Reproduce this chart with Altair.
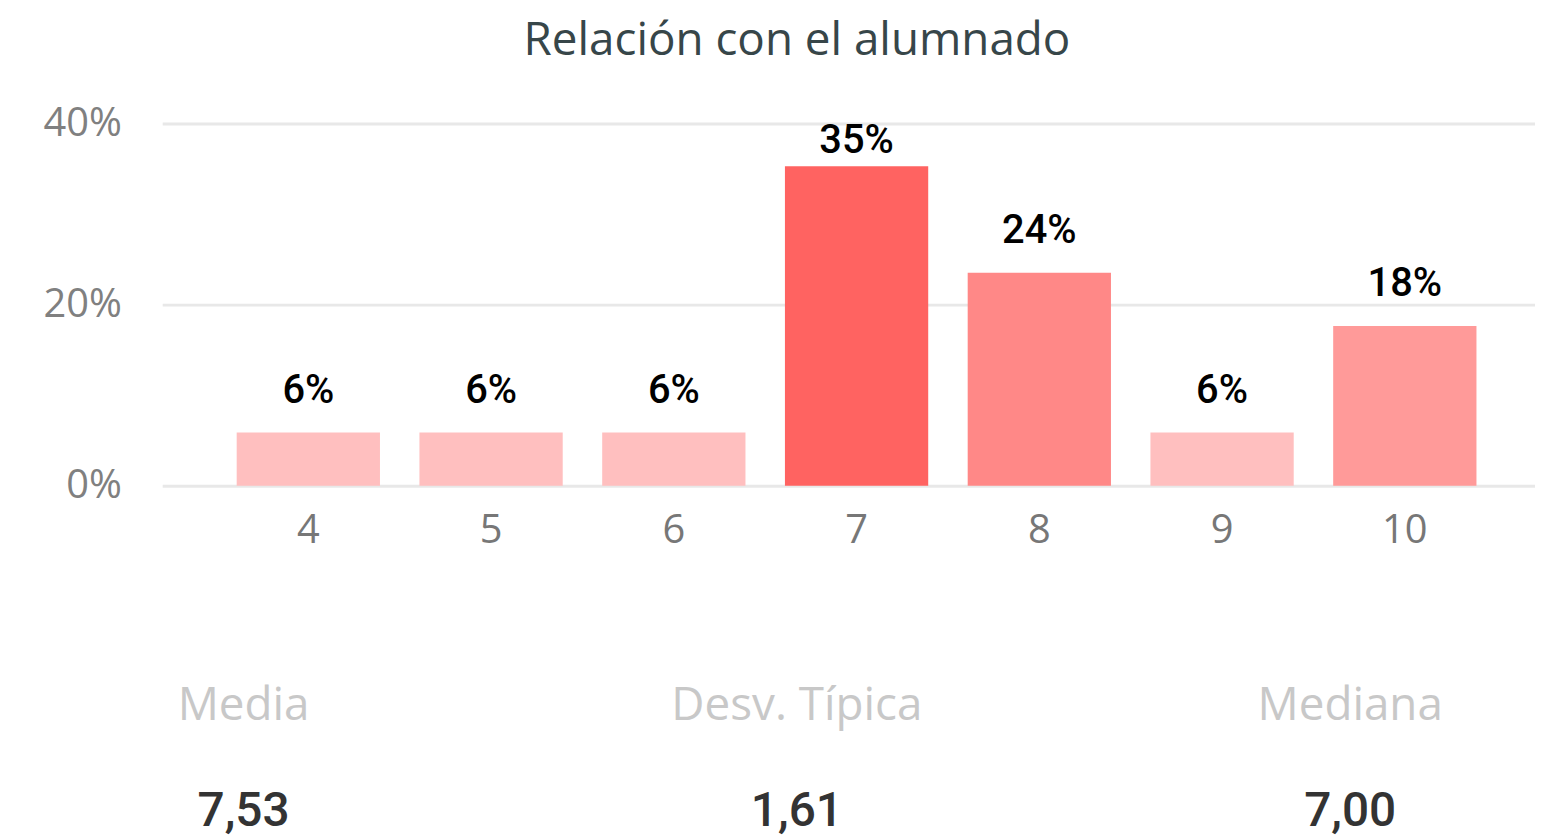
import altair as alt
import pandas as pd

scores = ["4", "5", "6", "7", "8", "9", "10"]
shares = [0.0588, 0.0588, 0.0588, 0.3529, 0.2353, 0.0588, 0.1765]

stat_names = ["Media", "Desv. Típica", "Mediana"]
stat_values = ["7,53", "1,61", "7,00"]

df = pd.DataFrame({"score": scores, "pct": shares})

rows = []
for n, v in zip(stat_names, stat_values):
    rows.append({"stat": n, "row": "label", "txt": n})
    rows.append({"stat": n, "row": "value", "txt": v})
sdf = pd.DataFrame(rows)

xenc = alt.X(
    "score:N", sort=scores,
    scale=alt.Scale(paddingInner=0.216, paddingOuter=0.364, align=0.56),
    axis=alt.Axis(title=None, labelAngle=0, labelFontSize=40, labelColor="#777777",
                  labelFont="Open Sans", ticks=False, domain=False, labelPadding=25,
                  grid=False),
)

base = alt.Chart(df)
bars = base.mark_bar().encode(
    x=xenc,
    y=alt.Y("pct:Q", scale=alt.Scale(domain=[0, 0.4]),
            axis=alt.Axis(values=[0, 0.2, 0.4], format=".0%", title=None,
                          labelFontSize=40, labelColor="#808080", labelFont="Open Sans",
                          ticks=False, domain=False, labelPadding=41,
                          gridColor="#E8E8E8", gridWidth=3)),
    color=alt.Color("pct:Q", scale=alt.Scale(range=["#FFBFBF", "#FF6361"], zero=False,
                                             interpolate="rgb"), legend=None),
)
labels = base.transform_calculate(ly="min(datum.pct + 0.033, 0.368)").mark_text(
    baseline="alphabetic", font="Roboto", fontSize=40, fontWeight=500, color="#000000"
).encode(
    x=alt.X("score:N", sort=scores),
    y=alt.Y("ly:Q"),
    text=alt.Text("pct:Q", format=".0%"),
)
top = alt.layer(bars, labels).properties(width=1380, height=364)

sbase = alt.Chart(sdf).encode(
    x=alt.X("stat:N", sort=stat_names, scale=alt.Scale(type="point", padding=0.147), axis=None),
    y=alt.Y("row:N", sort=["label", "value"], scale=alt.Scale(type="point", padding=0), axis=None),
    text="txt:N",
)
slabels = sbase.transform_filter("datum.row == 'label'").mark_text(
    font="Open Sans", fontSize=46, color="#C8C8C8", baseline="middle")
svalues = sbase.transform_filter("datum.row == 'value'").mark_text(
    font="Roboto", fontSize=48, fontWeight=500, color="#333333", baseline="middle")
bottom = alt.layer(slabels, svalues).properties(width=1276, height=106)

chart = alt.vconcat(top, bottom, spacing=134).properties(
    title=alt.TitleParams("Relación con el alumnado", font="Open Sans", fontSize=46,
                          fontWeight="normal", color="#374649", anchor="middle", offset=39,
                          dx=8),
    padding={"left": 35, "top": 8, "right": 0, "bottom": 0},
).configure_view(stroke=None)

chart.save("out.html", embed_options={"renderer": "svg", "actions": False})
